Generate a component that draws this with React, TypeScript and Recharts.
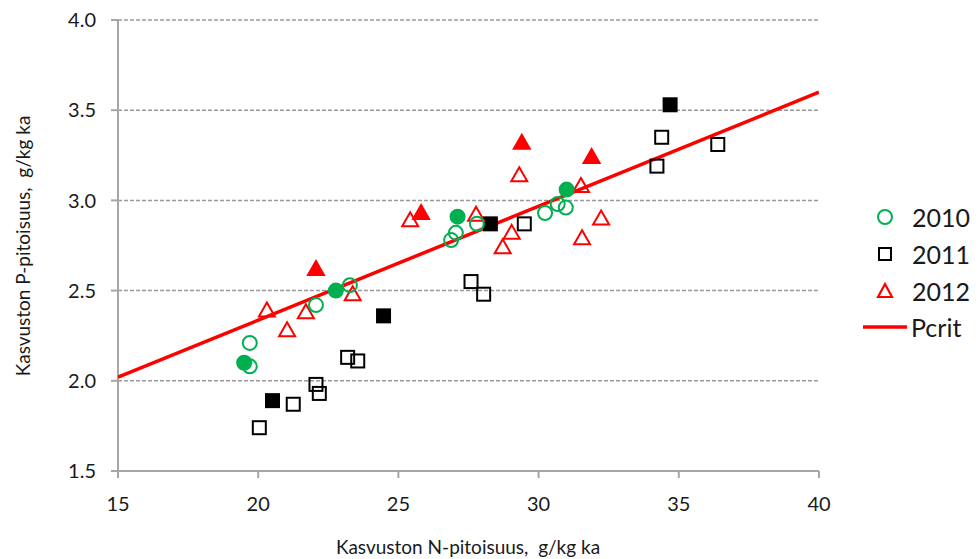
import React from "react";
import {
  ScatterChart,
  Scatter,
  XAxis,
  YAxis,
  CartesianGrid,
} from "recharts";

// N (g/kg ka) vs P (g/kg ka)
const open2010 = [
  { n: 19.7, p: 2.21 },
  { n: 19.7, p: 2.08 },
  { n: 22.06, p: 2.42 },
  { n: 23.27, p: 2.53 },
  { n: 26.88, p: 2.78 },
  { n: 27.05, p: 2.82 },
  { n: 27.8, p: 2.87 },
  { n: 30.23, p: 2.93 },
  { n: 30.68, p: 2.98 },
  { n: 30.97, p: 2.96 },
];
const filled2010 = [
  { n: 19.5, p: 2.1 },
  { n: 22.77, p: 2.5 },
  { n: 27.11, p: 2.91 },
  { n: 31.0, p: 3.06 },
];
const open2011 = [
  { n: 20.04, p: 1.74 },
  { n: 21.25, p: 1.87 },
  { n: 22.06, p: 1.98 },
  { n: 22.18, p: 1.93 },
  { n: 23.19, p: 2.13 },
  { n: 23.55, p: 2.11 },
  { n: 27.59, p: 2.55 },
  { n: 28.04, p: 2.48 },
  { n: 29.49, p: 2.87 },
  { n: 34.22, p: 3.19 },
  { n: 34.39, p: 3.35 },
  { n: 36.39, p: 3.31 },
];
const filled2011 = [
  { n: 20.51, p: 1.89 },
  { n: 24.47, p: 2.36 },
  { n: 28.28, p: 2.87 },
  { n: 34.69, p: 3.53 },
];
const open2012 = [
  { n: 20.31, p: 2.39 },
  { n: 21.03, p: 2.28 },
  { n: 21.7, p: 2.38 },
  { n: 23.37, p: 2.48 },
  { n: 25.42, p: 2.89 },
  { n: 27.77, p: 2.92 },
  { n: 28.72, p: 2.74 },
  { n: 29.04, p: 2.82 },
  { n: 29.31, p: 3.14 },
  { n: 31.51, p: 3.08 },
  { n: 31.55, p: 2.79 },
  { n: 32.23, p: 2.9 },
];
const filled2012 = [
  { n: 22.06, p: 2.62 },
  { n: 25.81, p: 2.93 },
  { n: 29.4, p: 3.32 },
  { n: 31.89, p: 3.24 },
];
const pcrit = [
  { n: 15, p: 2.02 },
  { n: 40, p: 3.6 },
];

const xTicks = [15, 20, 25, 30, 35, 40];
const yTicks = [1.5, 2.0, 2.5, 3.0, 3.5, 4.0];

const GREEN = "#00B050";
const RED = "#FF0000";
const BLACK = "#000000";
const FONT = "Lato, 'Open Sans', sans-serif";
const TEXT = "#1a1a1a";

const circle = (filled: boolean) => (props: any) => (
  <circle
    cx={props.cx}
    cy={props.cy}
    r={7}
    fill={filled ? GREEN : "#fff"}
    fillOpacity={filled ? 1 : 0}
    stroke={GREEN}
    strokeWidth={2}
  />
);

const square = (filled: boolean) => (props: any) => (
  <rect
    x={props.cx - 6.5}
    y={props.cy - 6.5}
    width={13}
    height={13}
    fill={filled ? BLACK : "#fff"}
    fillOpacity={filled ? 1 : 0}
    stroke={BLACK}
    strokeWidth={2}
  />
);

const triangle = (filled: boolean) => (props: any) => {
  const { cx, cy } = props;
  const d = `M${cx},${cy - 8} L${cx + 8},${cy + 6} L${cx - 8},${cy + 6} Z`;
  return (
    <path
      d={d}
      fill={filled ? RED : "#fff"}
      fillOpacity={filled ? 1 : 0}
      stroke={RED}
      strokeWidth={2}
    />
  );
};

const YTitle = () => (
  <text
    x={0}
    y={0}
    transform="translate(30,246) rotate(-90)"
    textAnchor="middle"
    fontFamily={FONT}
    fontSize={19}
    fill={TEXT}
  >
    Kasvuston P-pitoisuus,{"\u00A0 "}g/kg ka
  </text>
);

const XTitle = () => (
  <text
    x={468}
    y={554}
    textAnchor="middle"
    fontFamily={FONT}
    fontSize={19}
    fill={TEXT}
  >
    Kasvuston N-pitoisuus,{"\u00A0 "}g/kg ka
  </text>
);

const legendItems = [
  { label: "2010", kind: "circle" },
  { label: "2011", kind: "square" },
  { label: "2012", kind: "triangle" },
  { label: "Pcrit", kind: "line" },
];

function LegendMark({ kind }: { kind: string }) {
  return (
    <svg width={46} height={30} style={{ display: "block" }}>
      {kind === "circle" && (
        <circle cx={22} cy={15} r={7} fill="none" stroke={GREEN} strokeWidth={2} />
      )}
      {kind === "square" && (
        <rect x={16} y={9} width={12} height={12} fill="none" stroke={BLACK} strokeWidth={2} />
      )}
      {kind === "triangle" && (
        <path d="M22,8 L29,21 L15,21 Z" fill="none" stroke={RED} strokeWidth={2.2} />
      )}
      {kind === "line" && (
        <line x1={0} y1={15} x2={44} y2={15} stroke={RED} strokeWidth={3.5} />
      )}
    </svg>
  );
}

export default function App() {
  return (
    <div style={{ position: "relative", width: 980, height: 559, background: "#fff" }}>
      <style>{"body{margin:0;}"}</style>
      <ScatterChart
        width={980}
        height={559}
        margin={{ top: 20, right: 161, bottom: 0, left: 0 }}
      >
        <CartesianGrid
          vertical={false}
          stroke="#9a9a9a"
          strokeDasharray="4 2"
          strokeWidth={1.5}
        />
        <XAxis
          type="number"
          dataKey="n"
          domain={[15, 40]}
          ticks={xTicks}
          allowDataOverflow
          height={88}
          tickSize={7}
          tickMargin={19}
          axisLine={{ stroke: "#a6a6a6", strokeWidth: 2 }}
          tickLine={{ stroke: "#a6a6a6", strokeWidth: 2 }}
          tick={{ fontFamily: FONT, fontSize: 20, fill: TEXT }}
          label={<XTitle />}
        />
        <YAxis
          type="number"
          dataKey="p"
          domain={[1.5, 4]}
          ticks={yTicks}
          allowDataOverflow
          width={118}
          tickSize={7}
          tickMargin={15}
          tickFormatter={(v: number) => v.toFixed(1)}
          axisLine={{ stroke: "#a6a6a6", strokeWidth: 2 }}
          tickLine={{ stroke: "#a6a6a6", strokeWidth: 2 }}
          tick={{ fontFamily: FONT, fontSize: 20, fill: TEXT }}
          label={<YTitle />}
        />
        <Scatter
          name="Pcrit"
          data={pcrit}
          line={{ stroke: RED, strokeWidth: 3.5 }}
          shape={() => <g />}
          isAnimationActive={false}
        />
        <Scatter name="2011" data={open2011} shape={square(false)} isAnimationActive={false} />
        <Scatter name="2011f" data={filled2011} shape={square(true)} isAnimationActive={false} />
        <Scatter name="2012" data={open2012} shape={triangle(false)} isAnimationActive={false} />
        <Scatter name="2012f" data={filled2012} shape={triangle(true)} isAnimationActive={false} />
        <Scatter name="2010" data={open2010} shape={circle(false)} isAnimationActive={false} />
        <Scatter name="2010f" data={filled2010} shape={circle(true)} isAnimationActive={false} />
      </ScatterChart>
      <div
        style={{
          position: "absolute",
          left: 863,
          top: 199,
          fontFamily: FONT,
          fontSize: 25,
          lineHeight: "30px",
          color: TEXT,
        }}
      >
        {legendItems.map((it) => (
          <div
            key={it.label}
            style={{ display: "flex", alignItems: "center", height: 36.7 }}
          >
            <LegendMark kind={it.kind} />
            <span style={{ marginLeft: it.kind === "line" ? 2 : 3 }}>{it.label}</span>
          </div>
        ))}
      </div>
    </div>
  );
}
